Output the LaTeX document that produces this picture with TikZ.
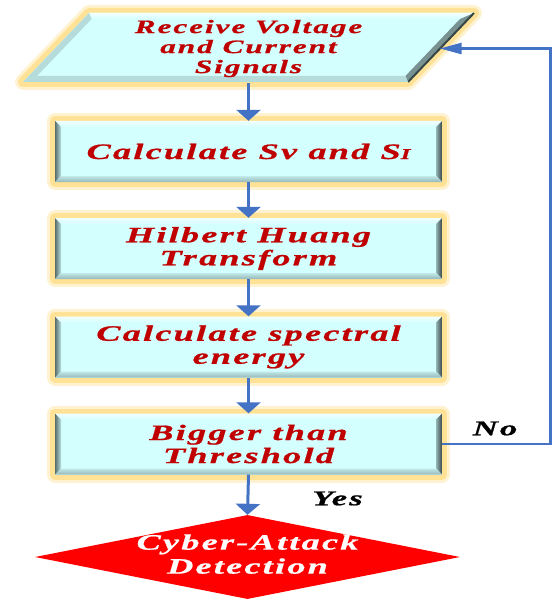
\documentclass[tikz,border=0pt]{standalone}
\usepackage{fontspec}
\usepackage{tikz}
\usetikzlibrary{arrows.meta,shapes.geometric,calc}

\newfontfamily\flowfont{Liberation Serif}[FakeStretch=1.65,LetterSpace=10,FakeBold=0.8]

\definecolor{boxcyan}{RGB}{212,255,255}
\definecolor{textred}{RGB}{192,0,0}
\definecolor{arrowblue}{RGB}{68,114,196}
\definecolor{glowyellow}{RGB}{255,226,150}
\definecolor{bevellight}{RGB}{240,255,255}
\definecolor{bevelmid}{RGB}{150,182,182}
\definecolor{beveldark}{RGB}{55,70,70}
\definecolor{attackred}{RGB}{255,0,0}

% bevelled frame inside a box
\newcommand{\bevelbands}{%
  \path (path picture bounding box.north west) coordinate (bnw)
        (path picture bounding box.south east) coordinate (bse);
  \shade[top color=bevellight, bottom color=boxcyan]
     (bnw) -- (bnw -| bse) -- ++(-6pt,-6pt) -- ($(bnw)+(6pt,-6pt)$) -- cycle;
  \shade[left color=bevelmid!60!black, right color=bevelmid!40!boxcyan]
     (bnw) -- ($(bnw)+(6pt,-6pt)$) -- ($(bnw |- bse)+(6pt,6pt)$) -- (bnw |- bse) -- cycle;
  \shade[left color=bevelmid, right color=beveldark]
     (bnw -| bse) -- (bse) -- ($(bse)+(-6pt,6pt)$) -- ($(bnw -| bse)+(-6pt,-6pt)$) -- cycle;
  \shade[top color=boxcyan!70!bevelmid, bottom color=bevelmid]
     (bnw |- bse) -- (bse) -- ($(bse)+(-6pt,6pt)$) -- ($(bnw |- bse)+(6pt,6pt)$) -- cycle;
}

\begin{document}
\begin{tikzpicture}[x=1pt,y=-1pt]
        \tikzstyle{glow}=[
            preaction={draw=glowyellow!45, line width=16pt, line join=round},
            preaction={draw=glowyellow, line width=10pt, line join=round}
        ]
        \tikzstyle{stepbox}=[
            rectangle,
            glow,
            fill=boxcyan,
            minimum width=387pt,
            minimum height=61pt,
            inner sep=0pt,
            align=center,
            text=textred,
            font=\flowfont\bfseries\itshape\fontsize{22}{23}\selectfont,
            path picture={\bevelbands}
        ]
        \tikzstyle{paratext}=[
            rectangle,
            minimum width=382pt,
            minimum height=69pt,
            inner sep=0pt,
            align=center,
            text=textred,
            font=\flowfont\bfseries\itshape\fontsize{19}{20}\selectfont
        ]
        \tikzstyle{attack}=[
            diamond,
            fill=attackred,
            minimum width=425pt,
            minimum height=84pt,
            inner sep=0pt,
            text=white,
            font=\flowfont\bfseries\itshape\fontsize{22}{24}\selectfont
        ]
        \tikzstyle{answer}=[
            inner sep=0pt,
            text=black,
            font=\flowfont\bfseries\itshape\fontsize{21}{22}\selectfont
        ]
        \tikzstyle{flowarrow}=[-{Triangle[width=24pt,length=11pt]}, draw=arrowblue, line width=3pt]
        \tikzstyle{backarrow}=[-{Triangle[width=11pt,length=22pt]}, draw=arrowblue, line width=2.5pt]

        \useasboundingbox (0,0) rectangle (552,599);

        % input parallelogram
        \coordinate (pA) at (89,13);
        \coordinate (pB) at (474,13);
        \coordinate (pC) at (408,82);
        \coordinate (pD) at (23,82);
        \coordinate (qA) at (91.6,19);
        \coordinate (qB) at (460,19);
        \coordinate (qC) at (405.4,76);
        \coordinate (qD) at (37,76);
        \path[glow, fill=boxcyan] (pA) -- (pB) -- (pC) -- (pD) -- cycle;
        \shade[top color=bevellight, bottom color=boxcyan] (pA) -- (pB) -- (qB) -- (qA) -- cycle;
        \fill[bevelmid!80!black] (pB) -- (pC) -- (qC) -- (qB) -- cycle;
        \draw[beveldark, line width=2pt] (pB) -- (pC);
        \fill[boxcyan!50!bevelmid] (pC) -- (pD) -- (qD) -- (qC) -- cycle;
        \fill[bevelmid!50!boxcyan] (pD) -- (pA) -- (qA) -- (qD) -- cycle;

        \node[paratext] (recv) at (248.5,48.5) {Receive Voltage\\and Current\\Signals};
        \node[stepbox] (calcs) at (248.5,151.5) {Calculate Sv and S{\fontsize{15}{15}\selectfont I}};
        \node[stepbox] (hht) at (248.5,248.5) {Hilbert Huang\\Transform};
        \node[stepbox] (energy) at (248.5,347) {Calculate spectral\\energy};
        \node[stepbox] (thresh) at (248.5,444) {Bigger than\\Threshold};
        \node[attack] (attack) at (247.5,557) {\smash{\makebox[0pt]{\raisebox{-5pt}{\begin{tabular}{@{}c@{}}Cyber-Attack\\Detection\end{tabular}}}}};

        \node[answer] (no) at (495,428.5) {No};
        \node[answer] (yes) at (337.5,498.5) {Yes};

        \draw[flowarrow] (recv.south) -- (calcs.north);
        \draw[flowarrow] (calcs.south) -- (hht.north);
        \draw[flowarrow] (hht.south) -- (energy.north);
        \draw[flowarrow] (energy.south) -- (thresh.north);
        \draw[flowarrow] (thresh.south) -- (attack.north);
        \draw[backarrow] (thresh.east) -- ++(108.5,0) |- (recv.east);

\end{tikzpicture}
\end{document}
